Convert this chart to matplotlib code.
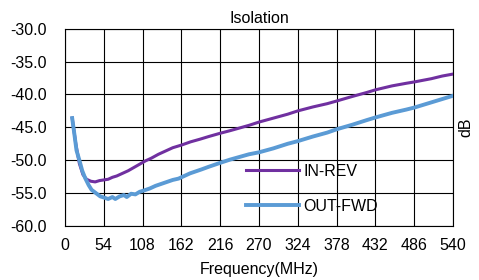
import matplotlib.pyplot as plt

plt.rcParams['font.family'] = ['Liberation Sans', 'DejaVu Sans']

# --- data ---
freq_rev = [10, 15, 20, 25, 30, 36, 42, 48, 54, 60, 66, 72, 80, 88, 96, 104, 112,
            120, 130, 140, 150, 162, 175, 188, 200, 216, 230, 243, 256, 270, 290,
            310, 324, 345, 365, 378, 400, 420, 432, 455, 475, 486, 510, 525, 540]
in_rev = [-43.6, -47.5, -50.5, -52.2, -52.9, -53.2, -53.3, -53.1, -53.0, -52.9,
          -52.6, -52.4, -52.0, -51.6, -51.1, -50.6, -50.1, -49.7, -49.1, -48.6,
          -48.1, -47.7, -47.2, -46.8, -46.4, -45.9, -45.5, -45.1, -44.7, -44.2,
          -43.6, -43.0, -42.5, -41.9, -41.4, -41.0, -40.3, -39.7, -39.3, -38.7,
          -38.3, -38.1, -37.6, -37.2, -36.9]

freq_fwd = [10, 13, 16, 20, 24, 28, 33, 37, 43, 49, 55, 60, 66, 70, 76, 82, 86, 92,
            98, 104, 110, 118, 126, 134, 142, 150, 158, 166, 174, 182, 190, 200,
            216, 230, 243, 256, 270, 290, 310, 324, 345, 365, 378, 400, 420, 432,
            455, 475, 486, 510, 525, 540]
out_fwd = [-43.6, -46.0, -48.5, -50.0, -51.6, -52.7, -53.8, -54.5, -55.0, -55.5,
           -55.7, -55.9, -55.6, -55.9, -55.5, -55.3, -55.6, -55.1, -55.2, -54.8,
           -54.6, -54.3, -53.9, -53.6, -53.3, -53.0, -52.8, -52.4, -52.0, -51.7,
           -51.4, -51.0, -50.4, -49.9, -49.5, -49.1, -48.8, -48.2, -47.5, -47.1,
           -46.4, -45.8, -45.3, -44.6, -43.9, -43.5, -42.8, -42.3, -42.0, -41.2,
           -40.7, -40.2]

x_ticks = list(range(0, 541, 54))
y_ticks = [-60, -55, -50, -45, -40, -35, -30]

fig = plt.figure(figsize=(4.79, 2.80), dpi=100)
ax = fig.add_axes([0.1357, 0.193, 0.8100, 0.7045])

ax.plot(freq_rev, in_rev, color='#7030A0', linewidth=2.2, label='IN-REV', zorder=3)
ax.plot(freq_fwd, out_fwd, color='#5B9BD5', linewidth=2.8, label='OUT-FWD', zorder=3)

ax.set_xlim(0, 540)
ax.set_ylim(-60, -30)
ax.set_xticks(x_ticks)
ax.set_yticks(y_ticks)
ax.set_yticklabels([f'{v:.1f}' for v in y_ticks])
ax.tick_params(length=0, labelsize=11.5)
ax.tick_params(axis='y', pad=13)
ax.tick_params(axis='x', pad=9)
ax.grid(True, color='black', linewidth=0.8)
ax.set_axisbelow(True)
for s in ax.spines.values():
    s.set_color('black')
    s.set_linewidth(0.8)

ax.set_title('Isolation', fontsize=11.5, pad=4)
ax.set_xlabel('Frequency(MHz)', fontsize=11.5, labelpad=6)
ax.yaxis.set_label_position('right')
ax.set_ylabel('dB', fontsize=11.5, labelpad=4)

ax.legend(loc='upper left', bbox_to_anchor=(0.4665, 0.315), frameon=False,
          fontsize=11.5, handlelength=3.3, handletextpad=0.3, labelspacing=1.25,
          borderpad=0, borderaxespad=0)

fig.savefig('out.png', dpi=100)
